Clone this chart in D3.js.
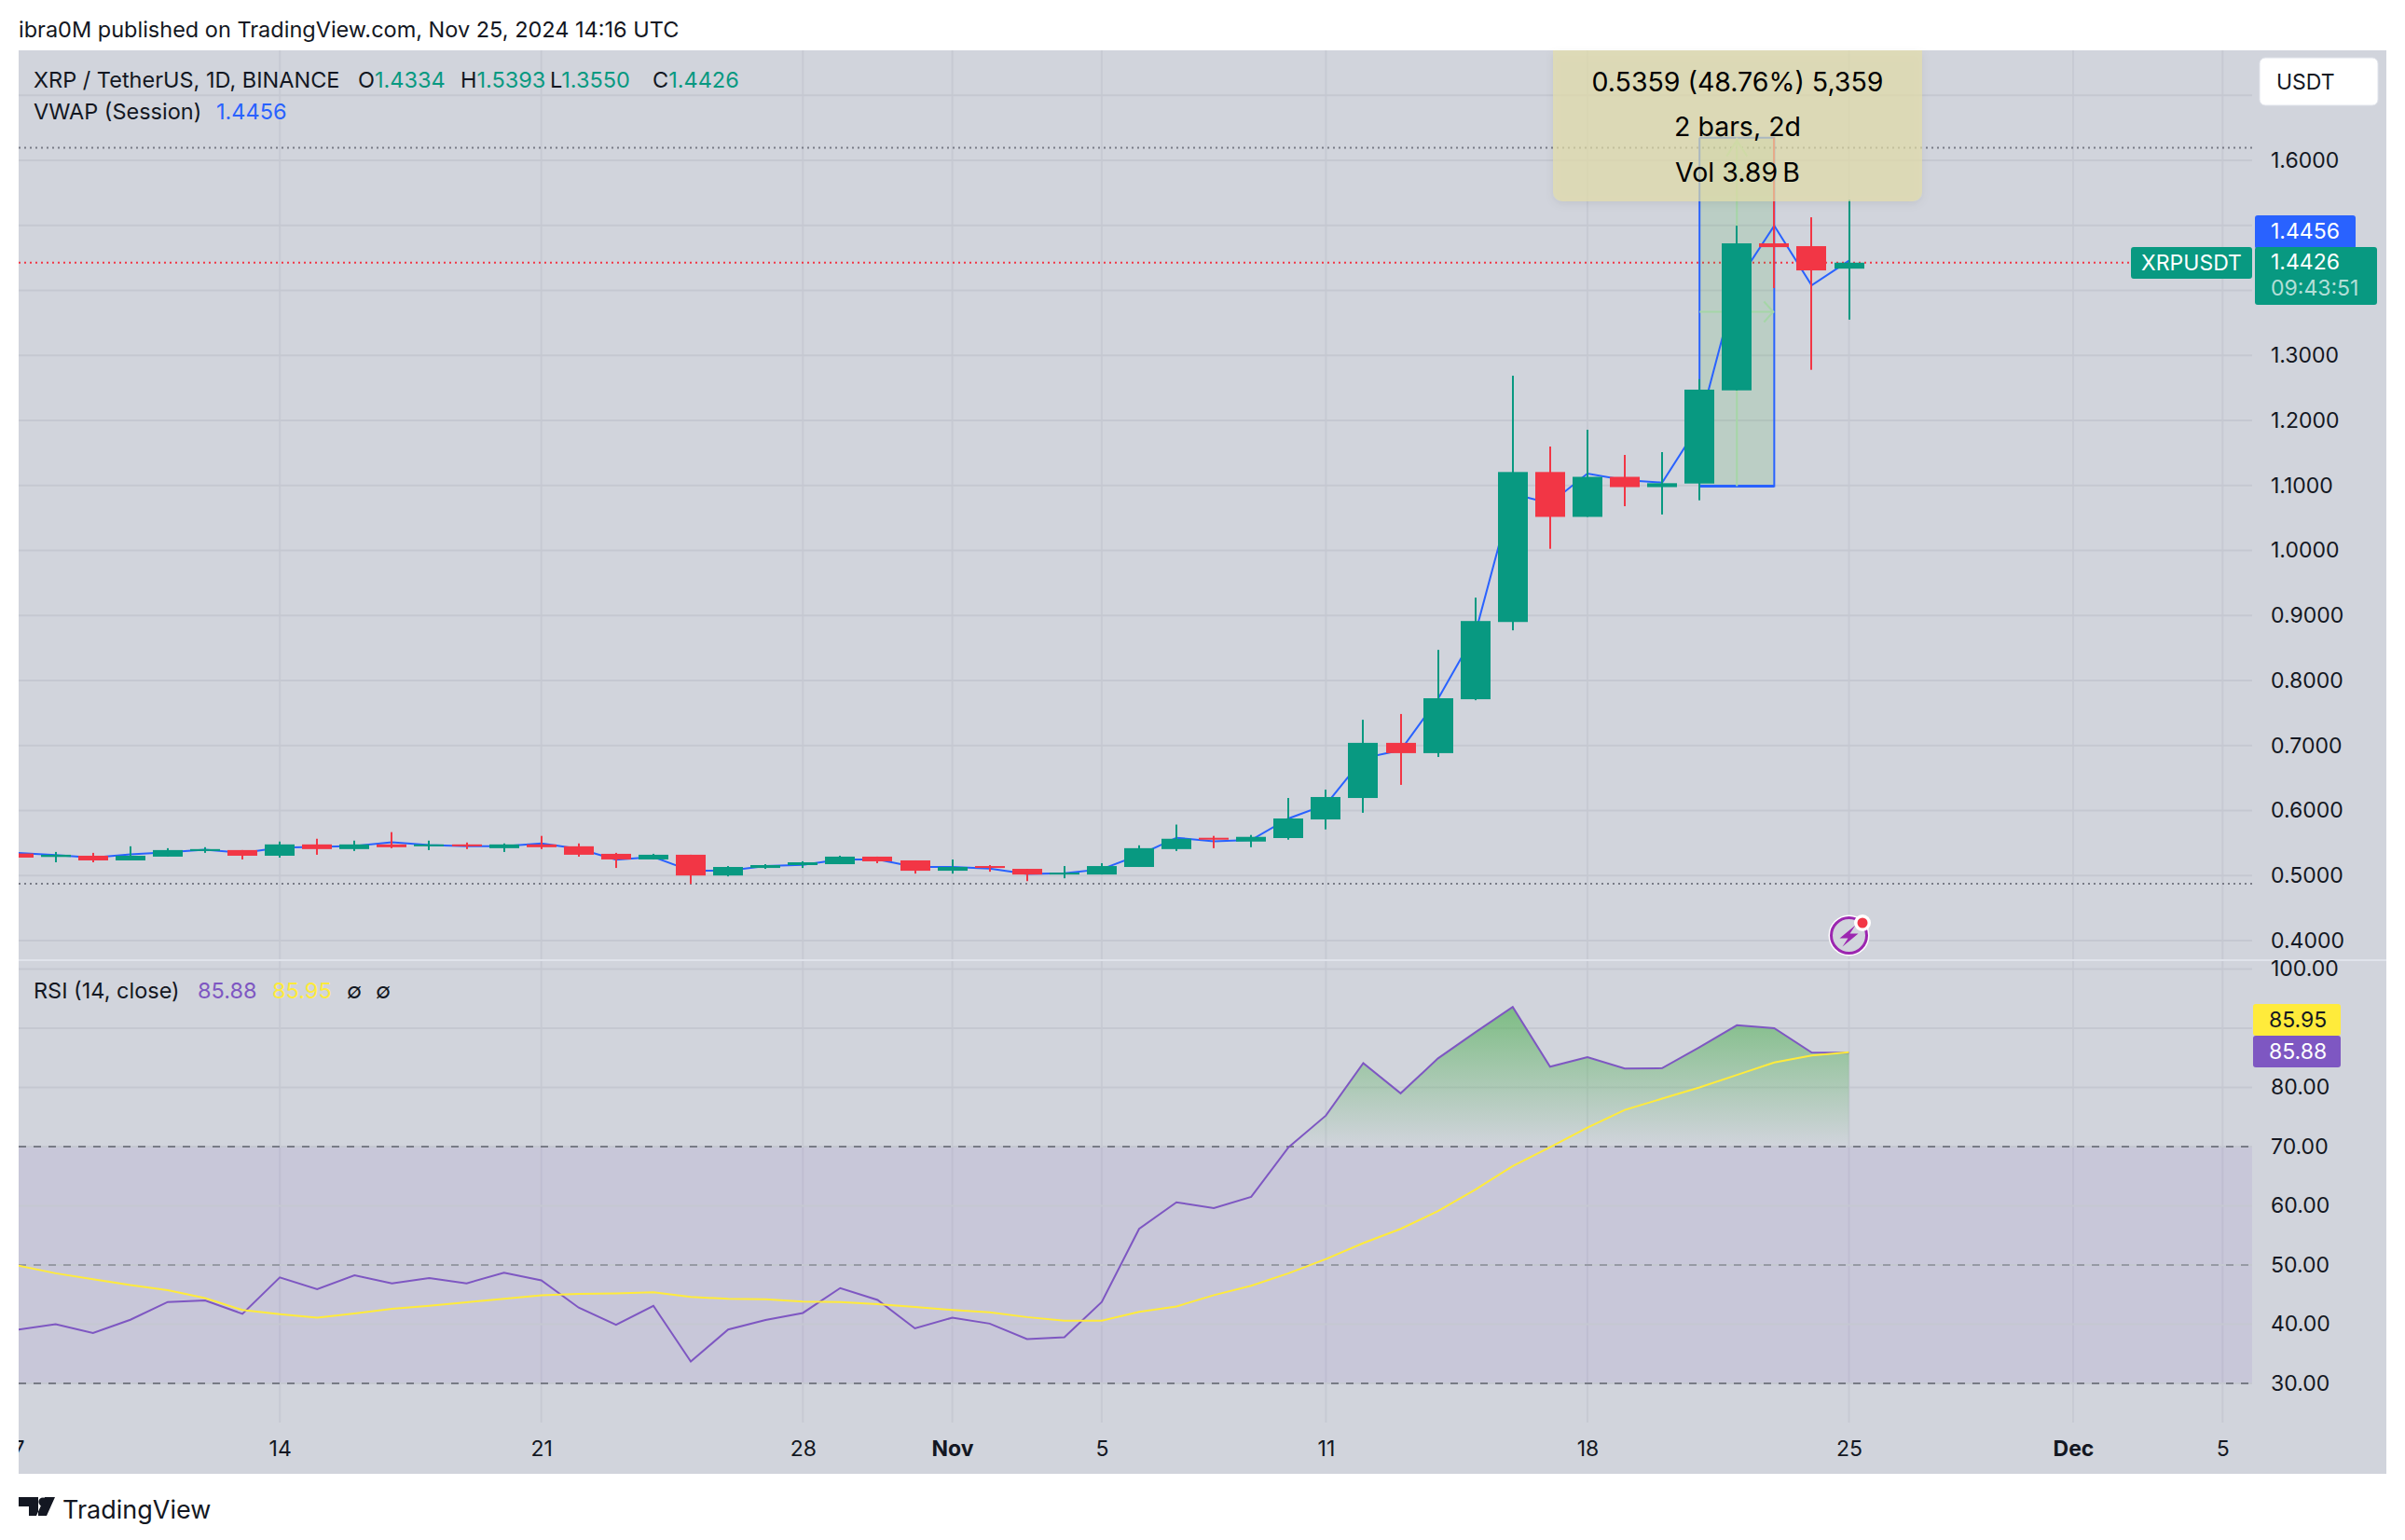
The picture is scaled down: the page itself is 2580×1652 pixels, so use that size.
<!DOCTYPE html>
<html><head><meta charset="utf-8">
<script src="https://cdn.jsdelivr.net/npm/d3@7"></script>
<style>
html,body{margin:0;padding:0;background:#fff}
svg{display:block}
text{font-family:Inter,"Noto Sans",sans-serif;fill:#131722}
</style></head><body>
<script>
// ---------- data ----------
const firstDay = "2024-10-07";
const opens  = [.5338,.5285,.5304,.5232,.5290,.5377,.5391,.5304,.5478,.5406,.5478,.5449,.5478,.5420,.5478,.5449,.5333,.5247,.5319,.5000,.5116,.5160,.5174,.5290,.5232,.5073,.5145,.5102,.5015,.5015,.5131,.5406,.5580,.5522,.5576,.5862,.6192,.7040,.6882,.7711,.8899,1.1206,1.0516,1.1132,1.0974,1.1029,1.2462,1.4723,1.4680,1.4334];
const closes = [.5275,.5319,.5232,.5304,.5391,.5406,.5304,.5478,.5406,.5478,.5435,.5478,.5449,.5478,.5435,.5319,.5247,.5319,.5000,.5131,.5160,.5203,.5290,.5218,.5073,.5131,.5116,.5015,.5044,.5145,.5420,.5565,.5551,.5594,.5877,.6207,.7040,.6882,.7726,.8914,1.1206,1.0516,1.1132,1.0974,1.1034,1.2473,1.4723,1.4665,1.4307,1.4426];
const highs  = [.5338,.5362,.5348,.5449,.5420,.5435,.5391,.5522,.5565,.5536,.5667,.5536,.5507,.5493,.5609,.5493,.5348,.5333,.5319,.5145,.5174,.5218,.5304,.5290,.5232,.5246,.5160,.5102,.5145,.5189,.5464,.5783,.5609,.5623,.6192,.6320,.7395,.7484,.8470,.9274,1.2687,1.1598,1.1856,1.1469,1.1512,1.2634,1.4995,1.6348,1.5124,1.5393];
const lows   = [.5275,.5203,.5203,.5232,.5290,.5348,.5247,.5275,.5319,.5377,.5420,.5391,.5406,.5362,.5406,.5290,.5116,.5247,.4870,.4986,.5102,.5116,.5174,.5189,.5029,.5029,.5058,.4913,.4957,.5015,.5131,.5377,.5420,.5435,.5551,.5709,.5965,.6394,.6823,.7696,.8771,1.0025,1.0516,1.0680,1.0553,1.0771,1.2462,1.4036,1.2778,1.3550];
const vwap   = [.5348,.5314,.5275,.5324,.5358,.5396,.5348,.5430,.5440,.5454,.5512,.5469,.5449,.5449,.5493,.5411,.5242,.5285,.5073,.5073,.5145,.5164,.5247,.5247,.5131,.5131,.5106,.5024,.5034,.5097,.5314,.5580,.5527,.5546,.5877,.6089,.6804,.6927,.7716,.8726,1.0871,1.0723,1.1181,1.1083,1.1043,1.1942,1.4116,1.4995,1.4078,1.4456];
const rsi    = [39.1,40.0,38.5,40.75,43.75,44.0,41.75,47.9,45.9,48.25,46.9,47.8,46.9,48.7,47.4,42.8,39.9,43.1,33.7,39.1,40.7,41.9,46.1,44.1,39.3,41.1,40.1,37.5,37.8,43.75,56.1,60.6,59.6,61.5,69.9,75.25,84.1,79.0,84.9,89.3,93.6,83.5,85.1,83.2,83.25,86.8,90.5,90.0,85.9,85.88];
const rsiMA  = [49.9,48.6,47.6,46.6,45.75,44.4,42.4,41.7,41.1,41.8,42.6,43.1,43.7,44.3,44.9,45.1,45.2,45.4,44.6,44.3,44.2,43.8,43.75,43.4,42.9,42.4,42.0,41.2,40.6,40.6,42.1,43,44.9,46.5,48.6,51,53.7,56.1,59.1,62.75,66.7,69.9,73.2,76.2,78.1,80,82.1,84.2,85.4,85.95];
const priceTicks = [0.4,0.5,0.6,0.7,0.8,0.9,1.0,1.1,1.2,1.3,1.4,1.5,1.6,1.7];
const rsiTicks = [30,40,50,60,70,80,90,100];
const rsiLevels = [30,50,70];
const timeTickDates = ["2024-10-07","2024-10-14","2024-10-21","2024-10-28","2024-11-01","2024-11-05","2024-11-11","2024-11-18","2024-11-25","2024-12-01","2024-12-05"];
const timeTickLabels = ["7","14","21","28","Nov","5","11","18","25","Dec","5"];
const monthTicks = ["Nov","Dec"];
const measureFrom = "2024-11-21", measureTo = "2024-11-23";
const measureLow = 1.0990, measureHigh = 1.6349;
const hiLine = 1.6195, loLine = 0.4875, lastPrice = 1.4426;
const measureText = ["0.5359 (48.76%) 5,359","2 bars, 2d","Vol 3.89\u2009B"];
const legendOHLC = [["O","1.4334"],["H","1.5393"],["L","1.3550"],["C","1.4426"]];

// ---------- setup ----------
const W=2580,H=1652;
const L=20,R=2416,RO=2560,T=54,PB=1029,RT=1031,TB=1526,B=1581;
const GREEN="#089981",RED="#f23645",BLUE="#2962ff",PURPLE="#7e57c2",YELLOW="#ffeb3b",GRID="#c5c8d1",TXT="#131722";
const svg=d3.select("body").append("svg").attr("width",W).attr("height",H);
const defs=svg.append("defs");
const clip=(id,x,y,w,h)=>defs.append("clipPath").attr("id",id).append("rect").attr("x",x).attr("y",y).attr("width",w).attr("height",h);
clip("cMain",L,T,R-L,PB-T); clip("cRsi",L,RT,R-L,TB-RT); clip("cTime",L,TB,R-L,B-TB);
const day=d=>new Date(d+"T00:00:00Z");
const dates=opens.map((_,i)=>new Date(day(firstDay).getTime()+i*864e5));
const x=d3.scaleUtc().domain([dates[0],dates[dates.length-1]]).range([19.6,1983.5]);
const y=d3.scaleLinear().domain([0.4,1.6]).range([1008.9,172]);
const yr=d3.scaleLinear().domain([30,100]).range([1484,1039.5]);
const g=defs.append("linearGradient").attr("id","ob").attr("gradientUnits","userSpaceOnUse").attr("x1",0).attr("x2",0).attr("y1",yr(100)).attr("y2",yr(70));
g.append("stop").attr("offset",0).attr("stop-color","#4caf50").attr("stop-opacity",.8);
g.append("stop").attr("offset",1).attr("stop-color","#4caf50").attr("stop-opacity",0);

svg.append("rect").attr("x",L).attr("y",T).attr("width",RO-L).attr("height",B-T).attr("fill","#d1d4dc");

// vertical grid
const vg=svg.append("g");
[[T,PB],[RT,TB]].forEach(([a,b])=>vg.selectAll(null).data(timeTickDates.slice(1)).join("line")
  .attr("x1",d=>x(day(d))).attr("x2",d=>x(day(d))).attr("y1",a).attr("y2",b).attr("stroke","#c7cad3").attr("stroke-width",2));

// ---------- price pane ----------
const main=svg.append("g").attr("clip-path","url(#cMain)");
main.selectAll("line.h").data(priceTicks).join("line").attr("class","h").attr("x1",L).attr("x2",R)
  .attr("y1",d=>y(d)).attr("y2",d=>y(d)).attr("stroke",GRID).attr("stroke-width",2);
const dots=(v,c,x2)=>main.append("line").attr("x1",L).attr("x2",x2).attr("y1",y(v)).attr("y2",y(v)).attr("stroke",c).attr("stroke-width",2).attr("stroke-dasharray","2 4");
dots(hiLine,"#787b86",R); dots(loLine,"#787b86",R); dots(lastPrice,RED,2286);

// measure tool
const mx0=x(day(measureFrom)),mx1=x(day(measureTo)),my0=y(measureHigh),my1=y(measureLow),mxc=(mx0+mx1)/2,myc=(my0+my1)/2;
main.append("rect").attr("x",mx0).attr("y",my0).attr("width",mx1-mx0).attr("height",my1-my0).attr("fill","#4caf50").attr("fill-opacity",.16);
main.append("path").attr("fill","none").attr("stroke",BLUE).attr("stroke-width",2)
  .attr("d",`M${mx0},${my0}V${my1}H${mx1}V${my0}H${mx0}`);
main.append("line").attr("x1",mx0).attr("x2",mx1).attr("y1",my1).attr("y2",my1).attr("stroke",BLUE).attr("stroke-width",3);
main.append("path").attr("fill","none").attr("stroke","#a5d6a7").attr("stroke-width",2)
  .attr("d",`M${mxc},${my1}V${my0}M${mxc-11},${my0+20}L${mxc},${my0+3}L${mxc+11},${my0+20}M${mx0},${myc}H${mx1}M${mx1-11},${myc-11}L${mx1-1},${myc}L${mx1-11},${myc+11}`);

// vwap
main.append("path").datum(vwap).attr("fill","none").attr("stroke",BLUE).attr("stroke-width",2)
  .attr("d",d3.line().x((d,i)=>x(dates[i])).y(d=>y(d)));

// candles
const idx=d3.range(opens.length);
const col=i=>closes[i]>=opens[i]?GREEN:RED;
main.selectAll("rect.w").data(idx).join("rect").attr("class","w").attr("x",i=>Math.round(x(dates[i]))-1).attr("width",2)
  .attr("y",i=>y(highs[i])).attr("height",i=>y(lows[i])-y(highs[i])).attr("fill",col);
main.selectAll("rect.b").data(idx).join("rect").attr("class","b").attr("x",i=>Math.round(x(dates[i]))-16).attr("width",32)
  .attr("y",i=>y(Math.max(opens[i],closes[i]))).attr("height",i=>Math.max(2,Math.abs(y(opens[i])-y(closes[i])))).attr("fill",col);

// measure tooltip
const shadowF=defs.append("filter").attr("id","sh").attr("x","-5%").attr("y","-10%").attr("width","110%").attr("height","125%");
shadowF.append("feDropShadow").attr("dx",0).attr("dy",3).attr("stdDeviation",4).attr("flood-color","#000").attr("flood-opacity",.1);
svg.append("path").attr("d","M1666,54H2062V206a10,10 0 0 1 -10,10H1676a10,10 0 0 1 -10,-10Z").attr("fill","#e4dfa8").attr("fill-opacity",.68).attr("filter","url(#sh)");
svg.selectAll("text.m").data(measureText).join("text").attr("class","m").attr("x",1864).attr("y",(d,i)=>87+i*48.5)
  .attr("text-anchor","middle").attr("dominant-baseline","central").attr("font-size",28.5).style("fill","#000").text(d=>d);

// flash icon
const ic=svg.append("g").attr("transform",`translate(${x(dates[dates.length-1])},1003.5)`);
ic.append("circle").attr("r",22).attr("fill","#fff");
ic.append("circle").attr("r",19).attr("fill","#d1d4dc").attr("stroke","#9c27b0").attr("stroke-width",3);
ic.append("path").attr("d","M7,-11L-10,3H-1L-7,12L10,-2H1Z").attr("fill","#9c27b0");
ic.append("circle").attr("cx",14.5).attr("cy",-13.5).attr("r",9).attr("fill","#fff");
ic.append("circle").attr("cx",14.5).attr("cy",-13.5).attr("r",5.5).attr("fill",RED);

// pane separator
svg.append("rect").attr("x",L).attr("y",PB).attr("width",RO-L).attr("height",2).attr("fill","#e0e3eb");

// ---------- RSI pane ----------
const rp=svg.append("g").attr("clip-path","url(#cRsi)");
rp.append("rect").attr("x",L).attr("width",R-L).attr("y",yr(70)).attr("height",yr(30)-yr(70)).attr("fill",PURPLE).attr("fill-opacity",.1);
rp.selectAll("line.h").data(rsiTicks).join("line").attr("class","h").attr("x1",L).attr("x2",R)
  .attr("y1",d=>yr(d)).attr("y2",d=>yr(d)).attr("stroke",GRID).attr("stroke-width",2);
rp.selectAll("line.l").data(rsiLevels).join("line").attr("class","l").attr("x1",L).attr("x2",R)
  .attr("y1",d=>yr(d)).attr("y2",d=>yr(d)).attr("stroke","#787b86").attr("stroke-width",2)
  .attr("stroke-opacity",d=>d===50?.6:1).attr("stroke-dasharray","8 8");
rp.append("path").datum(rsi).attr("fill","url(#ob)")
  .attr("d",d3.area().defined(d=>d>=69.9).x((d,i)=>x(dates[i])).y0(yr(70)).y1(d=>yr(Math.max(d,70))));
rp.append("path").datum(rsi).attr("fill","none").attr("stroke",PURPLE).attr("stroke-width",2)
  .attr("d",d3.line().x((d,i)=>x(dates[i])).y(d=>yr(d)));
rp.append("path").datum(rsiMA).attr("fill","none").attr("stroke",YELLOW).attr("stroke-width",2)
  .attr("d",d3.line().x((d,i)=>x(dates[i])).y(d=>yr(d)));

// ---------- axes ----------
const styleAxis=(a,size)=>{a.select(".domain").remove();a.selectAll(".tick line").remove();
  a.selectAll("text").attr("font-size",size).style("font-family","Inter,sans-serif").style("fill",TXT);};
const ax1=svg.append("g").attr("transform","translate(2436,0)")
  .call(d3.axisRight(y).tickValues(priceTicks.filter(d=>![1.4,1.5,1.7].includes(d))).tickFormat(d3.format(".4f")).tickSize(0).tickPadding(0));
styleAxis(ax1,23);
const ax2=svg.append("g").attr("transform","translate(2436,0)")
  .call(d3.axisRight(yr).tickValues(rsiTicks).tickFormat(d3.format(".2f")).tickSize(0).tickPadding(0));
styleAxis(ax2,23);
const ax3=svg.append("g").attr("clip-path","url(#cTime)").append("g").attr("transform",`translate(0,${TB})`)
  .call(d3.axisBottom(x).tickValues(timeTickDates.map(day)).tickFormat((d,i)=>timeTickLabels[i]).tickSize(0).tickPadding(20));
styleAxis(ax3,23);
ax3.selectAll("text").attr("font-weight",(d,i)=>monthTicks.includes(timeTickLabels[i])?700:400);

// ---------- legends & labels ----------
const label=(xx,yy,t,size,c,opt={})=>{const e=svg.append("text").attr("x",xx).attr("y",yy).attr("dominant-baseline","central")
   .attr("font-size",size).style("fill",c).text(t); if(opt.anchor)e.attr("text-anchor",opt.anchor); if(opt.w)e.attr("font-weight",opt.w); if(opt.o)e.style("fill-opacity",opt.o); return e;};
label(20,31,"ibra0M published on TradingView.com, Nov 25, 2024 14:16 UTC",23.5,TXT);
label(36,85,"XRP / TetherUS, 1D, BINANCE",23.5,TXT);
const lx=[384,494,590,700];
legendOHLC.forEach(([k,v],i)=>{const t=label(lx[i],85,"",23.5,TXT);
  t.append("tspan").text(k); t.append("tspan").style("fill",GREEN).text(v);});
label(36,119,"VWAP (Session)",23.5,TXT);
label(232,119,"1.4456",23.5,BLUE);
label(36,1062,"RSI (14, close)",23.5,TXT);
label(212,1062,"85.88",23.5,PURPLE);
label(292,1062,"85.95",23.5,YELLOW);
label(372,1062,"\u2205",23.5,TXT);
label(403,1062,"\u2205",23.5,TXT);

const box=(x0,y0,w,h,c,r=3)=>svg.append("rect").attr("x",x0).attr("y",y0).attr("width",w).attr("height",h).attr("rx",r).attr("fill",c);
box(2424,62,127,51,"#fff",6).attr("stroke","#e0e3eb").attr("stroke-width",1);
label(2442,88,"USDT",23,TXT);
box(2419,231,108,36,BLUE);
label(2436,248,"1.4456",23,"#fff");
box(2286,265,130,34,GREEN);
label(2351,282,"XRPUSDT",23,"#fff",{anchor:"middle"});
box(2419,265,131,62,GREEN);
label(2436,281,"1.4426",23,"#fff");
label(2436,309,"09:43:51",23,"#fff",{o:.7});
box(2417,1077,94,34,YELLOW);
label(2434,1094,"85.95",23,"#131722");
box(2417,1111,94,34,PURPLE);
label(2434,1128,"85.88",23,"#fff");

// footer logo
svg.append("path").attr("fill",TXT).attr("fill-rule","evenodd")
  .attr("d","M20,1606H41V1626H31V1616H20Z M59,1606L50,1626H39L48,1606Z");
svg.append("circle").attr("cx",46).attr("cy",1611).attr("r",4.6).attr("fill",TXT);
label(67,1619,"TradingView",27,TXT);
</script>
</body></html>
